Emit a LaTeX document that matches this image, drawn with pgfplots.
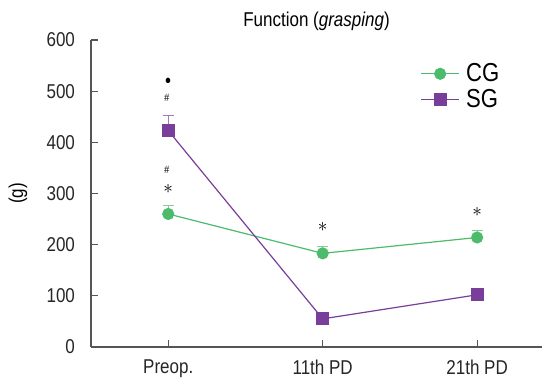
\documentclass[border=0pt]{standalone}
\usepackage{pgfplots}
\pgfplotsset{compat=1.18}
\usepackage{fontspec}
\setmainfont{Liberation Sans}[FakeStretch=0.85]
\definecolor{cgc}{RGB}{76,187,108}
\definecolor{sgc}{RGB}{121,62,154}
\definecolor{axc}{RGB}{85,85,85}
\begin{document}
\begin{tikzpicture}
\begin{axis}[
  name=ax,
  scale only axis,
  width=338.25pt, height=230.25pt,
  xmin=-0.5, xmax=2.42, ymin=0, ymax=600,
  axis lines*=left,
  axis line style={axc, line width=0.8pt, -},
  tick style={axc, line width=0.8pt},
  tick align=inside,
  major tick length=5pt,
  xtick={0,1,2},
  xticklabels={Preop., 11th PD, 21th PD},
  ytick={0,100,...,600},
  font=\fontsize{15}{17}\selectfont,
  /pgf/number format/assume math mode=true,
  xticklabel style={yshift=-6pt, text=black!85},
  yticklabel style={xshift=-8.5pt, text=black!85},
  ylabel={(g)},
  ylabel style={at={(axis description cs:-0.162,0.5)}, anchor=center},
  title={Function (\textit{grasping})},
  title style={font=\fontsize{15}{17}\selectfont, yshift=-2.25pt},
  legend style={draw=none, fill=none, at={(axis description cs:0.722,0.941)}, anchor=north west,
    font=\fontsize{19.5}{21}\selectfont, row sep=0pt},
  legend cell align=left,
  legend image code/.code={\draw[mark repeat=2,mark phase=2,#1] plot coordinates {(0pt,0pt)(14pt,0pt)(28pt,0pt)}; \path (31pt,0pt);},
]
\addplot[cgc, line width=0.9pt, mark=*, mark size=4.1pt,
  error bars/.cd, y dir=plus, y explicit, error mark=|,
  error bar style={cgc!70, line width=0.9pt},
  error mark options={cgc!70, mark size=4.2pt, line width=0.9pt}]
  coordinates {(0,260) +- (0,17) (1,183) +- (0,13) (2,214) +- (0,13)};
\addlegendentry{CG}
\addplot[sgc, line width=0.9pt, mark=square*, mark size=4.5pt,
  error bars/.cd, y dir=plus, y explicit, error mark=|,
  error bar style={sgc!70, line width=0.9pt},
  error mark options={sgc!70, mark size=4.2pt, line width=0.9pt}]
  coordinates {(0,423) +- (0,29) (1,55) +- (0,0) (2,102) +- (0,0)};
\addlegendentry{SG}
\node[inner sep=0pt, font=\fontsize{15}{15}\selectfont] at (axis cs:0,517) {\textbullet};
\node[inner sep=0pt, font=\fontsize{8}{8}\selectfont] at (axis cs:-0.01,487) {\textit{\#}};
\node[inner sep=0pt, font=\fontsize{8}{8}\selectfont] at (axis cs:-0.01,346) {\textit{\#}};
\node[inner sep=0pt, font=\Large] at (axis cs:0,309) {$\ast$};
\node[inner sep=0pt, font=\Large] at (axis cs:1,235) {$\ast$};
\node[inner sep=0pt, font=\Large] at (axis cs:2,264) {$\ast$};
\end{axis}
\pgfresetboundingbox
\path ([shift={(-68.25pt,-29.25pt)}]ax.south west) rectangle ([shift={(0pt,30pt)}]ax.north east);
\end{tikzpicture}
\end{document}
